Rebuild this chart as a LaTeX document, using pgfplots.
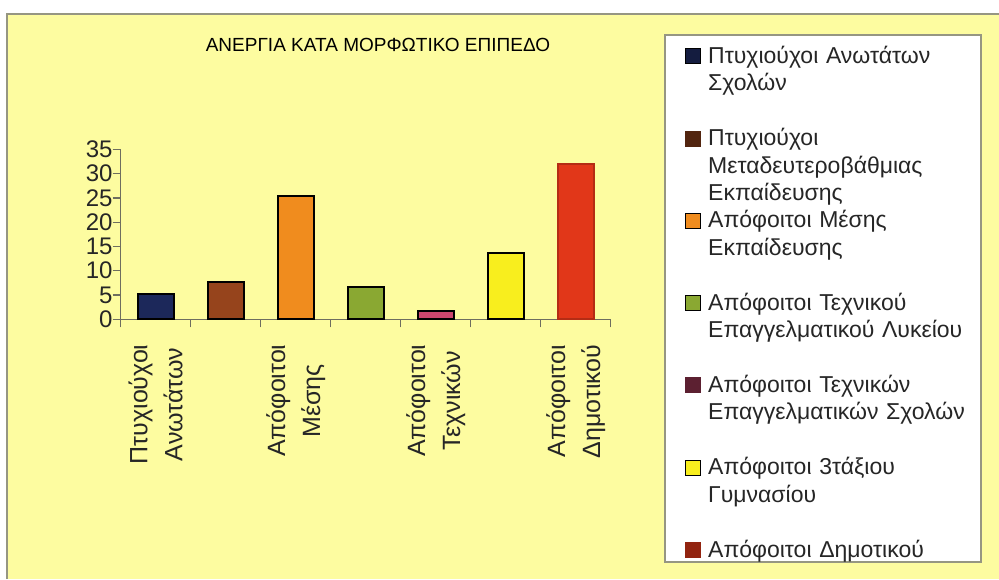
\documentclass[border=0pt]{standalone}
\usepackage{fontspec}
\setmainfont{Liberation Sans}
\usepackage{pgfplots}
\pgfplotsset{compat=1.18}
\definecolor{panel}{RGB}{253,252,160}
\definecolor{frame}{RGB}{150,150,130}
\definecolor{axisgray}{RGB}{110,110,95}
\definecolor{cA}{RGB}{28,40,90}
\definecolor{cB}{RGB}{150,68,28}
\definecolor{cC}{RGB}{240,140,30}
\definecolor{cD}{RGB}{138,168,50}
\definecolor{cE}{RGB}{205,70,110}
\definecolor{cF}{RGB}{248,238,30}
\definecolor{cG}{RGB}{225,55,25}

\begin{document}
\begin{tikzpicture}[x=1pt,y=1pt]
% panel, frame and legend box
\fill[white] (0,0) rectangle (999,579);
\fill[panel] (7,0) rectangle (999,565);
\draw[frame,line width=1.5pt] (7,0) -- (7,565) -- (999,565);
\draw[frame,line width=1.2pt,fill=white] (665,17) rectangle (981,544);

\begin{axis}[
  at={(120.7pt,259.7pt)}, anchor=south west,
  scale only axis, width=490pt, height=170pt,
  xmin=-0.5, xmax=6.5, ymin=0, ymax=35,
  axis lines*=left,
  axis line style={draw=axisgray, line width=1.3pt, -},
  ybar, bar width=36pt, bar shift=0pt,
  every axis plot/.append style={line width=1.9pt},
  xtick={0,...,6},
  xticklabels={{Πτυχιούχοι\\Ανωτάτων},,{Απόφοιτοι\\Μέσης},,{Απόφοιτοι\\Τεχνικών},,{Απόφοιτοι\\Δημοτικού}},
  major x tick style={draw=none},
  minor xtick={-0.5,0.5,...,6.5},
  ytick={0,5,...,35},
  tick align=outside,
  major tick length=8pt, minor tick length=8pt,
  tick style={draw=axisgray, line width=1.3pt},
  xticklabel shift=17pt,
  xticklabel style={rotate=90, anchor=east, align=center, inner sep=0pt,
    font=\fontsize{25}{35}\selectfont, text=black!85},
  yticklabel style={inner sep=0pt, font=\fontsize{24}{24}\selectfont, text=black!85},
  /pgf/number format/assume math mode=true,
  title={ΑΝΕΡΓΙΑ ΚΑΤΑ ΜΟΡΦΩΤΙΚΟ ΕΠΙΠΕΔΟ},
  title style={at={(axis description cs:0.525,1)}, anchor=base, yshift=92pt,
    font=\fontsize{19}{19}\selectfont, inner sep=0pt},
  legend image code/.code={\draw[#1, line width=1pt] (0pt,-0.5pt) rectangle (15pt,14.5pt);},
  legend style={at={(axis description cs:1.1516,1.6253)}, anchor=north west,
    draw=none, fill=none, inner sep=0pt, row sep=0pt, column sep=7pt,
    cells={anchor=base west},
    nodes={inner sep=0pt, text width=272pt, align=left, text height=20pt, text depth=62.3pt,
      font=\fontsize{23}{27.5}\selectfont, text=black!85}},
]
\addplot[fill=cA, draw=black, legend image post style={fill=cA!70!black}] coordinates {(0,5.3)};
\addplot[fill=cB, draw=black, legend image post style={fill=cB!55!black, draw=cB!55!black}] coordinates {(1,7.6)};
\addplot[fill=cC, draw=black] coordinates {(2,25.4)};
\addplot[fill=cD, draw=black] coordinates {(3,6.7)};
\addplot[fill=cE, draw=black, legend image post style={fill=cE!45!black, draw=cE!45!black}] coordinates {(4,1.7)};
\addplot[fill=cF, draw=black] coordinates {(5,13.6)};
\addplot[fill=cG, draw=cG!80!black, legend image post style={fill=cG!65!black, draw=cG!65!black}] coordinates {(6,31.9)};
\legend{{Πτυχιούχοι Ανωτάτων\\Σχολών},
  {Πτυχιούχοι\\Μεταδευτεροβάθμιας\\Εκπαίδευσης},
  {Απόφοιτοι Μέσης\\Εκπαίδευσης},
  {Απόφοιτοι Τεχνικού\\Επαγγελματικού Λυκείου},
  {Απόφοιτοι Τεχνικών\\Επαγγελματικών Σχολών},
  {Απόφοιτοι 3τάξιου\\Γυμνασίου},
  {Απόφοιτοι Δημοτικού}}
\end{axis}
\pgfresetboundingbox
\path[use as bounding box] (0,0) rectangle (999,579);
\end{tikzpicture}
\end{document}
